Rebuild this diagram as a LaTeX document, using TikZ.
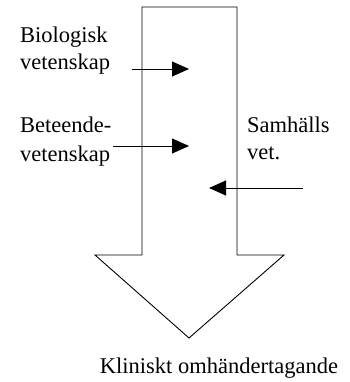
\documentclass[tikz,border=0pt]{standalone}
\usepackage{fontspec}
\setmainfont{Liberation Serif}
\usetikzlibrary{arrows.meta}
\begin{document}
\begin{tikzpicture}[x=1pt,y=-1pt,
  lbl/.style={inner sep=0pt,font=\fontsize{22.5}{28}\selectfont,anchor=base west},
  feed/.style={line width=0.9pt,-{Triangle[length=17pt,width=15pt]}},
  outline/.style={line width=0.9pt}]
\useasboundingbox (0,0) rectangle (349,382);
% big arrow
\draw[outline] (142,7) coordinate (tl) -- (237,7) coordinate (tr) -- (237,255) -- (284,255) -- (189,338) coordinate (tip) -- (95,255) -- (142,255) -- cycle;
% labels
\node[lbl] (bio1) at (20,43) {Biologisk};
\node[lbl] (bio2) at (20,70) {vetenskap};
\node[lbl] (bet1) at (20,133) {Beteende-};
\node[lbl] (bet2) at (20,161) {vetenskap};
\node[lbl] (sam1) at (247,133) {Samhälls};
\node[lbl] (sam2) at (247,160) {vet.};
\node[lbl,anchor=base] (kli) at (219,373) {Kliniskt omhändertagande};
% feed arrows
\coordinate (b1) at (132,69); \coordinate (e1) at (189,69);
\coordinate (b2) at (113,146); \coordinate (e2) at (189,146);
\coordinate (b3) at (303,188); \coordinate (e3) at (209,188);
\draw[feed] (b1) -- (e1);
\draw[feed] (b2) -- (e2);
\draw[feed] (b3) -- (e3);
\end{tikzpicture}
\end{document}
